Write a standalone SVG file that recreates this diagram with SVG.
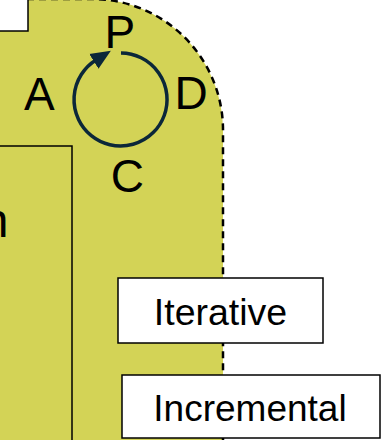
<svg xmlns="http://www.w3.org/2000/svg" width="385" height="440" viewBox="0 0 385 440">
  <style>
    .lbl { font-family: "Liberation Sans", Arial, sans-serif; fill: #000; }
    .box { fill: #fff; stroke: #000; stroke-width: 1.5; }
    .cycle { fill: none; stroke: #0B2739; stroke-width: 3.5; stroke-linecap: butt; }
  </style>
  <defs>
    <marker id="arrow" markerUnits="userSpaceOnUse" markerWidth="20" markerHeight="20" viewBox="0 0 16 14" refX="2" refY="7" orient="auto">
      <path d="M0,0 L16,7 L0,14 Z" fill="#0B2739"/>
    </marker>
  </defs>

  <g id="region">
    <rect x="-200" y="-1" width="423" height="600" rx="131" ry="131" fill="#D3D356" stroke="#000" stroke-width="2.5" stroke-dasharray="7,5"/>
  </g>

  <g id="top-left-box">
    <rect x="-20" y="-20" width="48" height="51" class="box"/>
  </g>

  <g id="left-box">
    <rect x="-20" y="146" width="92" height="320" fill="none" stroke="#000" stroke-width="1.5"/>
    <text class="lbl" x="8.5" y="237" font-size="48" text-anchor="end">n</text>
  </g>

  <g id="pdca">
    <text class="lbl" x="104.5" y="48" font-size="46">P</text>
    <text class="lbl" x="24" y="110" font-size="46">A</text>
    <text class="lbl" x="174.5" y="109" font-size="46">D</text>
    <text class="lbl" x="110.7" y="192" font-size="46">C</text>
  </g>

  <g id="connectors">
    <path class="cycle" d="M121,53 A46.5,46.5 0 1 1 96,60" marker-end="url(#arrow)"/>
  </g>

  <g id="iterative">
    <rect x="118" y="278" width="205" height="65" class="box"/>
    <text class="lbl" x="220.5" y="325" font-size="37.5" text-anchor="middle">Iterative</text>
  </g>

  <g id="incremental">
    <rect x="122" y="375" width="258" height="63" class="box"/>
    <text class="lbl" x="250" y="421" font-size="37" text-anchor="middle">Incremental</text>
  </g>
</svg>
